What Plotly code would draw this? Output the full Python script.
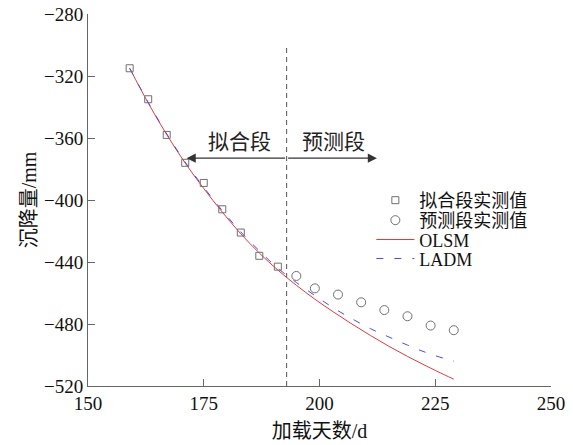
import plotly.graph_objects as go

# ---- data ----
fit_days = [159, 163, 167, 171, 175, 179, 183, 187, 191]
fit_settle = [-315, -335, -358, -376, -389, -406, -421, -436, -443]

pred_days = [195, 199, 204, 209, 214, 219, 224, 229]
pred_settle = [-449, -457, -461, -466, -471, -475, -481, -484]

curve_days = [159, 163, 167, 171, 175, 179, 183, 187, 191, 195, 199, 203,
              207, 211, 215, 219, 223, 227, 229]
olsm = [-315, -337.4, -357.8, -376.2, -392.6, -407.8, -421.8, -434.2, -445.2,
        -455, -464, -472.2, -480, -487.4, -494.4, -500.9, -507, -512.8, -515.6]
ladm = [-315, -337, -357.3, -375.6, -391.8, -406.8, -420.6, -432.8, -444,
        -453.2, -461.6, -469.6, -476.6, -483, -488.4, -493.6, -498.4, -502.3, -504]

split_day = 192.9
split_top = -301
arrow_level = -373
arrow_left = 171.3
arrow_right = 212.4

x_ticks = [150, 175, 200, 225, 250]
y_ticks = [-280, -320, -360, -400, -440, -480, -520]

FONT = "Liberation Serif, Times New Roman, Noto Sans CJK SC, serif"
AX = "#666666"

fig = go.Figure()

fig.add_trace(go.Scatter(
    x=[split_day, split_day], y=[y_ticks[-1], split_top], mode="lines",
    line=dict(color="#555555", width=1, dash="5px,4px"),
    showlegend=False, hoverinfo="skip"))

fig.add_trace(go.Scatter(
    x=curve_days, y=olsm, mode="lines", name="OLSM",
    line=dict(color="#e8393a", width=1, shape="spline"), legend="legend3"))
fig.add_trace(go.Scatter(
    x=curve_days, y=ladm, mode="lines", name="LADM",
    line=dict(color="#4a4af0", width=1, dash="7px,11px", shape="spline"),
    legend="legend4"))

fig.add_trace(go.Scatter(
    x=fit_days, y=fit_settle, mode="markers", name="拟合段实测值",
    marker=dict(symbol="square-open", size=7, color="#707070",
                line=dict(width=1, color="#707070")), legend="legend"))
fig.add_trace(go.Scatter(
    x=pred_days, y=pred_settle, mode="markers", name="预测段实测值",
    marker=dict(symbol="circle-open", size=9, color="#707070",
                line=dict(width=1, color="#707070")), legend="legend2"))

# arrows
for tip in (arrow_left, arrow_right):
    fig.add_annotation(x=tip, y=arrow_level, ax=split_day, ay=arrow_level,
                       xref="x", yref="y", axref="x", ayref="y", text="",
                       showarrow=True, arrowhead=2, arrowsize=1.4,
                       arrowwidth=1.3, arrowcolor="#333333")

fig.add_annotation(x=182.8, y=-362.4, text="拟合段", showarrow=False,
                   font=dict(size=21, color="#222222", family=FONT))
fig.add_annotation(x=203.0, y=-362.4, text="预测段", showarrow=False,
                   font=dict(size=21, color="#222222", family=FONT))

leg_common = dict(xanchor="left", yanchor="middle", bgcolor="rgba(0,0,0,0)",
                  font=dict(size=18, family=FONT, color="#111111"),
                  itemwidth=38, borderwidth=0)
lx = 0.612
fig.update_layout(
    legend=dict(x=lx, y=0.4987, **leg_common),
    legend2=dict(x=lx, y=0.4450, **leg_common),
    legend3=dict(x=lx, y=0.3930, **leg_common),
    legend4=dict(x=lx, y=0.3420, **leg_common),
)

fig.update_layout(
    width=573, height=445,
    margin=dict(l=88, r=22, t=14, b=59, autoexpand=False),
    paper_bgcolor="white", plot_bgcolor="white",
    font=dict(family=FONT, size=19, color="#111111"),
    xaxis=dict(range=[150, 250], tickvals=x_ticks, ticks="inside", ticklen=7,
               tickcolor=AX, showline=True, linecolor=AX, linewidth=1,
               showgrid=False, zeroline=False, automargin=False,
               ticklabeloverflow="allow",
               tickfont=dict(size=19, family=FONT),
               title=dict(text="加载天数/d", font=dict(size=20, family=FONT),
                          standoff=11)),
    yaxis=dict(range=[-520, -280], tickvals=y_ticks, ticks="inside", ticklen=7,
               tickcolor=AX, showline=True, linecolor=AX, linewidth=1,
               showgrid=False, zeroline=False, automargin=False,
               ticklabeloverflow="allow",
               tickfont=dict(size=19, family=FONT),
               title=dict(text="沉降量/mm", font=dict(size=20, family=FONT),
                          standoff=1)),
)

fig.write_html("out.html", config={"displayModeBar": False},
               post_script="document.body.style.margin='0';")
